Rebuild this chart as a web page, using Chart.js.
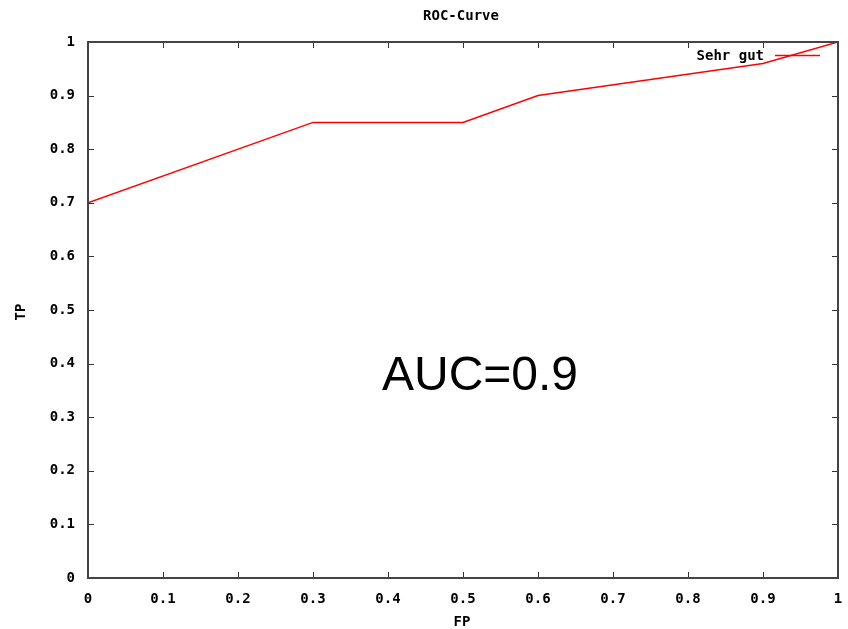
<!DOCTYPE html>
<html>
<head>
<meta charset="utf-8">
<script src="https://cdn.jsdelivr.net/npm/chart.js@4/dist/chart.umd.min.js"></script>
<style>
html,body{margin:0;padding:0;background:#fff;}
#wrap{width:848px;height:629px;}
</style>
</head>
<body>
<div id="wrap"><canvas id="c" width="848" height="629"></canvas></div>
<script>
const fpValues = [0, 0.3, 0.5, 0.6, 0.9, 1];
const tpValues = [0.7, 0.85, 0.85, 0.9, 0.96, 1];
const seriesLabel = "Sehr gut";
const chartTitle = "ROC-Curve";
const xTitle = "FP";
const yTitle = "TP";
const annotationText = "AUC=0.9";
const tickValues = [0, 0.1, 0.2, 0.3, 0.4, 0.5, 0.6, 0.7, 0.8, 0.9, 1];

const MONO = "bold 14px 'DejaVu Sans Mono', 'Liberation Mono', monospace";
const fmt = v => (v === 0 ? "0" : v === 1 ? "1" : v.toFixed(1));

const gnuplotPlugin = {
  id: 'gnuplot',
  afterDatasetsDraw(chart) {
    const {ctx, chartArea: a, scales} = chart;
    const xs = scales.x, ys = scales.y;
    ctx.save();
    ctx.strokeStyle = '#333';
    ctx.lineWidth = 1;
    const tl = 6;
    tickValues.forEach(v => {
      const px = Math.round(xs.getPixelForValue(v)) + 0.5;
      ctx.beginPath();
      ctx.moveTo(px, a.bottom); ctx.lineTo(px, a.bottom - tl);
      ctx.moveTo(px, a.top); ctx.lineTo(px, a.top + tl);
      ctx.stroke();
      const py = Math.round(ys.getPixelForValue(v)) + 0.5;
      ctx.beginPath();
      ctx.moveTo(a.left, py); ctx.lineTo(a.left + tl, py);
      ctx.moveTo(a.right, py); ctx.lineTo(a.right - tl, py);
      ctx.stroke();
    });
    ctx.strokeStyle = '#444';
    ctx.lineWidth = 2;
    ctx.strokeRect(a.left, a.top, a.right - a.left, a.bottom - a.top);
    // legend
    const ds = chart.data.datasets[0];
    ctx.font = MONO;
    ctx.fillStyle = '#000';
    ctx.textAlign = 'right';
    ctx.textBaseline = 'middle';
    ctx.fillText(ds.label, 764, 56);
    ctx.strokeStyle = '#ff0000';
    ctx.lineWidth = 1.5;
    ctx.beginPath();
    ctx.moveTo(775, 55.5); ctx.lineTo(820, 55.5);
    ctx.stroke();
    // title
    ctx.textAlign = 'center';
    ctx.fillText(chartTitle, 461, 16);
    ctx.fillText(xTitle, 462, 622);
    ctx.save();
    ctx.translate(21, 312);
    ctx.rotate(-Math.PI / 2);
    ctx.fillText(yTitle, 0, 0);
    ctx.restore();
    ctx.font = "48px 'Liberation Sans', Arial, sans-serif";
    ctx.textBaseline = 'alphabetic';
    ctx.fillText(annotationText, 480, 390);
    ctx.restore();
  }
};

new Chart(document.getElementById('c'), {
  type: 'scatter',
  data: {
    datasets: [{
      label: seriesLabel,
      data: fpValues.map((x, i) => ({x, y: tpValues[i]})),
      showLine: true,
      borderColor: '#ff0000',
      borderWidth: 1.5,
      pointRadius: 0,
      tension: 0,
      fill: false
    }]
  },
  options: {
    responsive: false,
    animation: false,
    devicePixelRatio: 1,
    layout: {padding: {top: 42, right: 10, left: 0, bottom: 0}},
    plugins: {legend: {display: false}, title: {display: false}, tooltip: {enabled: false}},
    scales: {
      x: {
        type: 'linear', min: 0, max: 1,
        afterFit(s) { s.height = 51; s.paddingLeft = 0; s.paddingRight = 0; },
        afterBuildTicks(s) { s.ticks = tickValues.map(v => ({value: v})); },
        grid: {display: false, drawTicks: false},
        border: {display: false},
        ticks: {
          padding: 13, color: '#000', font: {family: "'DejaVu Sans Mono'", size: 14, weight: 'bold'},
          callback: v => fmt(v), maxRotation: 0, autoSkip: false
        }
      },
      y: {
        type: 'linear', min: 0, max: 1,
        afterFit(s) { s.width = 88; s.paddingTop = 0; s.paddingBottom = 0; },
        afterBuildTicks(s) { s.ticks = tickValues.map(v => ({value: v})); },
        grid: {display: false, drawTicks: false},
        border: {display: false},
        ticks: {
          padding: 13, color: '#000', font: {family: "'DejaVu Sans Mono'", size: 14, weight: 'bold'},
          callback: v => fmt(v), autoSkip: false
        }
      }
    }
  },
  plugins: [gnuplotPlugin]
});
</script>
</body>
</html>
